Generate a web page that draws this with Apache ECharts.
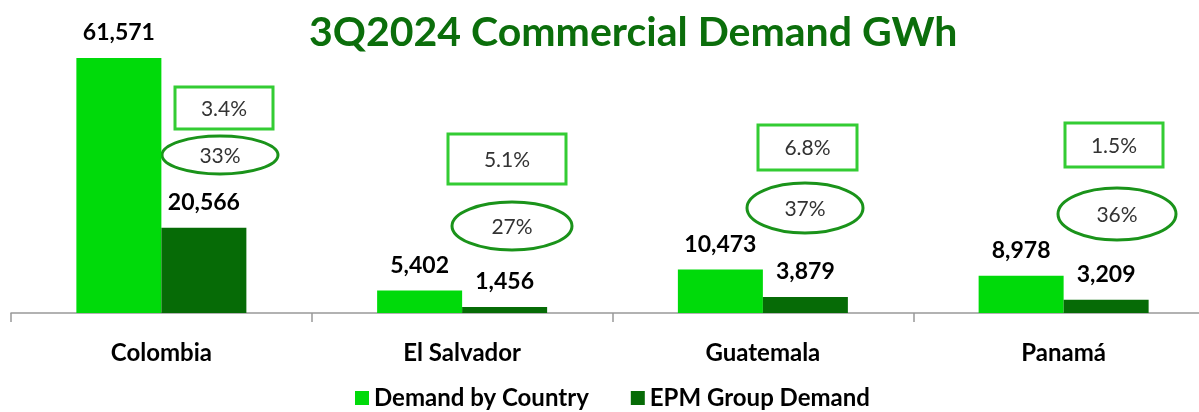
<!DOCTYPE html>
<html>
<head>
<meta charset="utf-8">
<script src="https://cdn.jsdelivr.net/npm/echarts@6/dist/echarts.min.js"></script>
<style>
  html, body { margin: 0; padding: 0; background: #fff; }
  #chart { width: 1199px; height: 412px; }
</style>
</head>
<body>
<div id="chart"></div>
<script>
var countries = ['Colombia', 'El Salvador', 'Guatemala', 'Panamá'];
var demandByCountry = [61571, 5402, 10473, 8978];
var epmDemand = [20566, 1456, 3879, 3209];
var growth = ['3.4%', '5.1%', '6.8%', '1.5%'];
var share = ['33%', '27%', '37%', '36%'];

// annotation boxes (pixel layout)
var boxes = [[175, 87, 98, 42], [448, 134, 118, 50], [758, 125, 99, 45], [1065, 123, 98, 44]];
var ovals = [[220, 155, 58, 19], [512, 226, 60, 24], [805, 208, 58, 25], [1117, 214, 59, 26]];

var font = 'Lato';
var chart = echarts.init(document.getElementById('chart'));

var graphics = [];
boxes.forEach(function (b, i) {
    graphics.push({
        type: 'rect',
        shape: { x: b[0], y: b[1], width: b[2], height: b[3] },
        style: { fill: '#fff', stroke: '#33CC33', lineWidth: 3 }
    });
    graphics.push({
        type: 'text',
        x: b[0] + b[2] / 2, y: b[1] + b[3] / 2 + 1,
        style: { text: growth[i], fill: '#333', font: '21px ' + font, textAlign: 'center', textVerticalAlign: 'middle' }
    });
});
ovals.forEach(function (o, i) {
    graphics.push({
        type: 'ellipse',
        shape: { cx: o[0], cy: o[1], rx: o[2], ry: o[3] },
        style: { fill: '#fff', stroke: '#1A931A', lineWidth: 3 }
    });
    graphics.push({
        type: 'text',
        x: o[0], y: o[1] + 1,
        style: { text: share[i], fill: '#333', font: '21px ' + font, textAlign: 'center', textVerticalAlign: 'middle' }
    });
});

function fmt(p) {
    return p.value.toLocaleString('en-US');
}

var valueLabel = { show: true, position: 'top', distance: 14, formatter: fmt, fontFamily: font, fontSize: 23, fontWeight: 'bold', color: '#000' };

var option = {
    animation: false,
    title: {
        text: '3Q2024 Commercial Demand GWh',
        left: 304,
        top: 7,
        textStyle: { fontFamily: font, fontSize: 41, fontWeight: 'bold', color: '#0B6E0B' }
    },
    legend: {
        bottom: -3,
        left: 350,
        itemWidth: 14,
        itemHeight: 14,
        itemGap: 42,
        icon: 'rect',
        textStyle: { fontFamily: font, fontSize: 24, fontWeight: 'bold', color: '#000' },
        data: ['Demand by Country', 'EPM Group Demand']
    },
    grid: { left: 11, width: 1203, top: 23, bottom: 99, outerBoundsMode: 'none', containLabel: false },
    xAxis: {
        type: 'category',
        data: countries,
        axisLine: { lineStyle: { color: '#999', width: 1.5 } },
        axisTick: { show: true, length: 9, lineStyle: { color: '#999', width: 1.5 } },
        axisLabel: { margin: 28, fontFamily: font, fontSize: 24, fontWeight: 'bold', color: '#000' }
    },
    yAxis: {
        type: 'value',
        min: 0,
        max: 70000,
        show: false,
        splitLine: { show: false }
    },
    graphic: graphics,
    series: [
        {
            name: 'Demand by Country',
            type: 'bar',
            data: demandByCountry,
            barWidth: 85,
            barGap: '0%',
            itemStyle: { color: '#00DA0A' },
            label: valueLabel
        },
        {
            name: 'EPM Group Demand',
            type: 'bar',
            data: epmDemand,
            barWidth: 85,
            barGap: '0%',
            itemStyle: { color: '#066B06' },
            label: valueLabel
        }
    ]
};

chart.setOption(option);
</script>
</body>
</html>
